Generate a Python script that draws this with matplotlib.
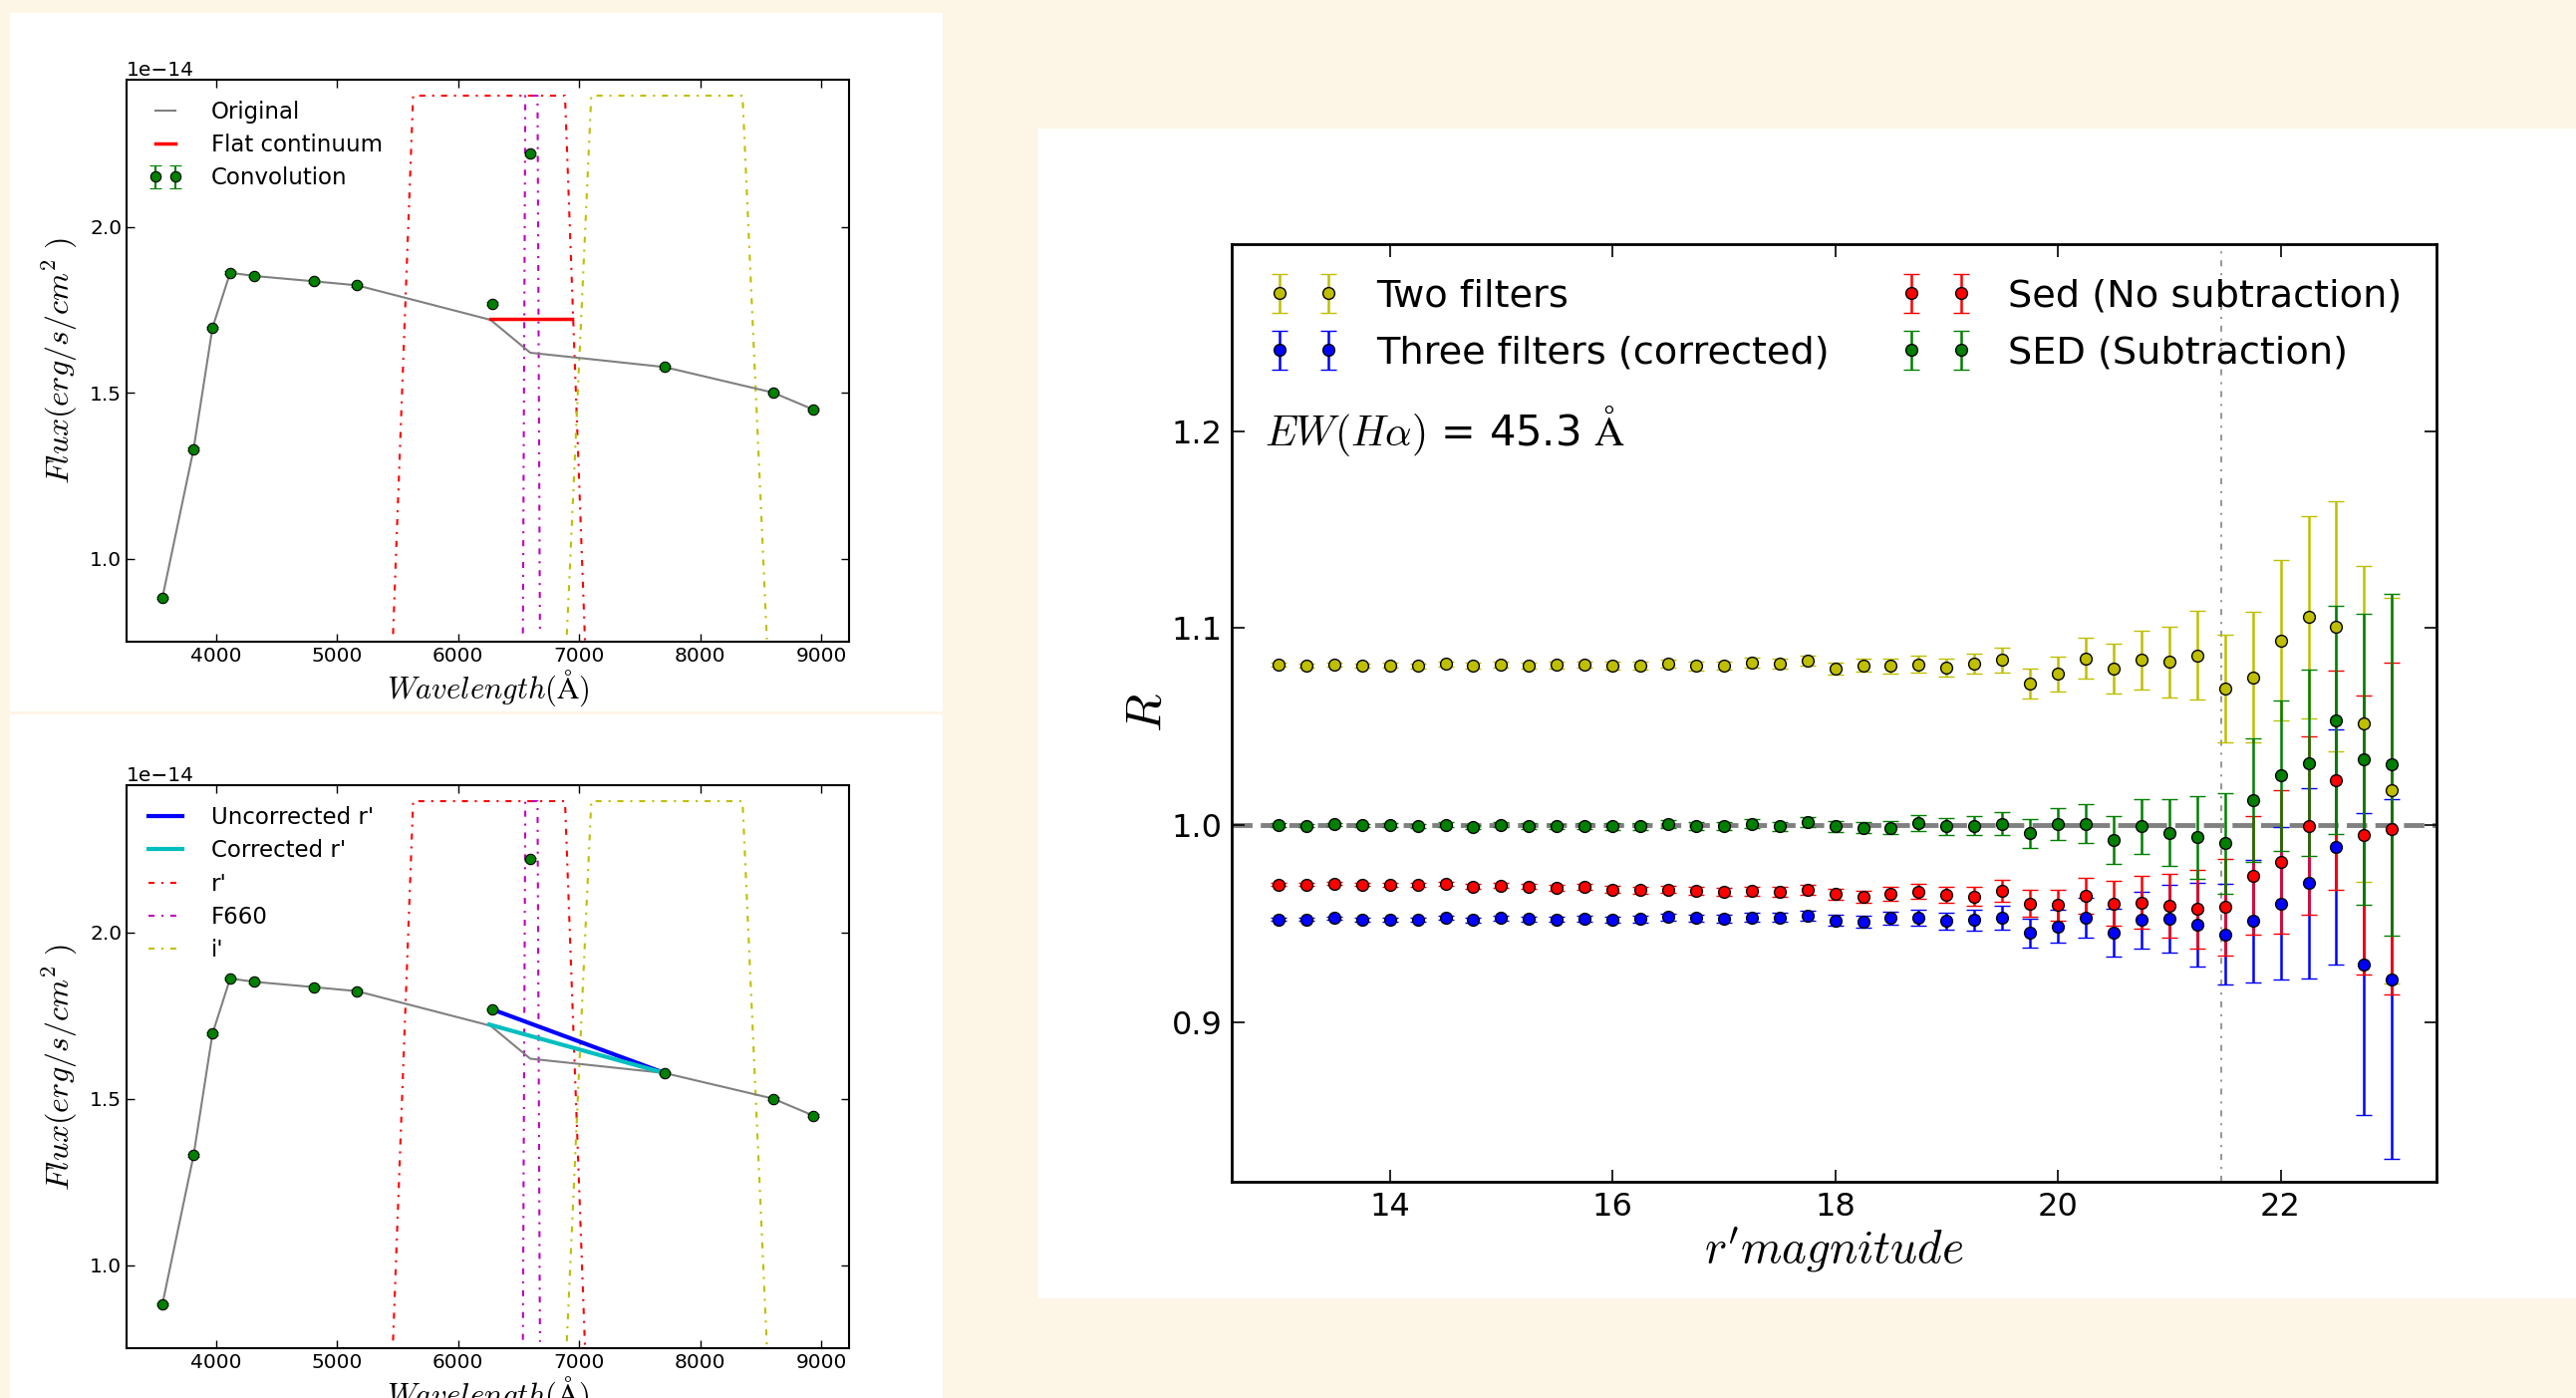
import numpy as np
import matplotlib
matplotlib.use('Agg')
import matplotlib.pyplot as plt
from matplotlib.patches import Rectangle

# ===== DATA =====

# Photometric points used for the convolution (wavelength in A, flux in 1e-14 erg/s/cm2)
conv_wl = [3556, 3814, 3970, 4116, 4318, 4811, 5164, 6283, 6596, 7705, 8602, 8935]
conv_flux = [0.883, 1.331, 1.696, 1.862, 1.852, 1.836, 1.824, 1.769, 2.220, 1.578, 1.501, 1.450]
conv_err = [0.004, 0.004, 0.004, 0.004, 0.004, 0.004, 0.004, 0.004, 0.004, 0.004, 0.004, 0.004]

# Original spectrum (continuum + line)
orig_wl = [3556, 3814, 3970, 4116, 4318, 4811, 5164, 6268, 6596, 7705, 8602, 8935]
orig_flux = [0.883, 1.331, 1.696, 1.862, 1.852, 1.836, 1.824, 1.720, 1.621, 1.578, 1.501, 1.450]

# Flat continuum under the r' band
flat_wl = [6268, 6939]
flat_flux = [1.7235, 1.7235]

# r' -> i' interpolations
uncorr_wl = [6283, 7705]
uncorr_flux = [1.769, 1.578]
corr_wl = [6258, 7705]
corr_flux = [1.7235, 1.578]

# Filter curves (scaled)
r_wl = [5462, 5628, 6883, 7049]
r_tr = [0.774, 2.395, 2.395, 0.745]
f660_wl = [6535, 6555, 6656, 6676]
f660_tr = [0.776, 2.395, 2.395, 0.770]
i_wl = [6898, 7100, 8350, 8551]
i_tr = [0.772, 2.395, 2.395, 0.758]

# Right panel: R ratio vs r' magnitude
mag = [13.0, 13.25, 13.5, 13.75, 14.0, 14.25, 14.5, 14.75, 15.0, 15.25, 15.5,
       15.75, 16.0, 16.25, 16.5, 16.75, 17.0, 17.25, 17.5, 17.75, 18.0, 18.25,
       18.5, 18.75, 19.0, 19.25, 19.5, 19.75, 20.0, 20.25, 20.5, 20.75, 21.0,
       21.25, 21.5, 21.75, 22.0, 22.25, 22.5, 22.75, 23.0]

two_filters = [1.0813, 1.0810, 1.0815, 1.0811, 1.0811, 1.0808, 1.0818, 1.0810,
               1.0816, 1.0811, 1.0813, 1.0815, 1.0810, 1.0810, 1.0820, 1.0808,
               1.0810, 1.0825, 1.0821, 1.0835, 1.0796, 1.0811, 1.0808, 1.0816,
               1.0801, 1.0820, 1.0839, 1.0718, 1.0768, 1.0847, 1.0795, 1.0839,
               1.0830, 1.0863, 1.0694, 1.0752, 1.0938, 1.1056, 1.1010, 1.0516,
               1.0176]
two_filters_err = [0.0010, 0.0010, 0.0011, 0.0011, 0.0012, 0.0012, 0.0013, 0.0014,
                   0.0015, 0.0015, 0.0016, 0.0017, 0.0018, 0.0019, 0.0020, 0.0021,
                   0.0022, 0.0024, 0.0025, 0.0027, 0.0030, 0.0033, 0.0036, 0.0043,
                   0.0046, 0.0052, 0.0062, 0.0077, 0.0087, 0.0103, 0.0128, 0.0149,
                   0.0180, 0.0224, 0.0271, 0.0333, 0.0406, 0.0512, 0.0636, 0.0801,
                   0.0980]

three_filters = [0.9522, 0.9521, 0.9528, 0.9521, 0.9522, 0.9521, 0.9531, 0.9519,
                 0.9528, 0.9524, 0.9522, 0.9526, 0.9519, 0.9524, 0.9534, 0.9528,
                 0.9524, 0.9533, 0.9533, 0.9541, 0.9517, 0.9509, 0.9529, 0.9530,
                 0.9513, 0.9518, 0.9530, 0.9453, 0.9487, 0.9531, 0.9455, 0.9519,
                 0.9525, 0.9495, 0.9447, 0.9513, 0.9602, 0.9706, 0.9890, 0.9295,
                 0.9219]
three_filters_err = [0.0008, 0.0008, 0.0009, 0.0009, 0.0010, 0.0010, 0.0011, 0.0012,
                     0.0012, 0.0013, 0.0014, 0.0015, 0.0016, 0.0017, 0.0018, 0.0019,
                     0.0020, 0.0021, 0.0023, 0.0025, 0.0027, 0.0030, 0.0033, 0.0041,
                     0.0044, 0.0052, 0.0062, 0.0074, 0.0083, 0.0101, 0.0120, 0.0144,
                     0.0172, 0.0211, 0.0257, 0.0313, 0.0387, 0.0484, 0.0598, 0.0766,
                     0.0913]

sed_nosub = [0.9699, 0.9698, 0.9704, 0.9699, 0.9698, 0.9696, 0.9701, 0.9689,
             0.9694, 0.9688, 0.9681, 0.9686, 0.9674, 0.9670, 0.9674, 0.9667,
             0.9664, 0.9665, 0.9662, 0.9674, 0.9650, 0.9638, 0.9652, 0.9664,
             0.9646, 0.9639, 0.9665, 0.9602, 0.9594, 0.9642, 0.9602, 0.9608,
             0.9590, 0.9575, 0.9584, 0.9745, 0.9815, 0.9998, 1.0230, 0.9950,
             0.9983]
sed_nosub_err = [0.0008, 0.0008, 0.0009, 0.0009, 0.0010, 0.0010, 0.0011, 0.0012,
                 0.0012, 0.0013, 0.0014, 0.0015, 0.0016, 0.0017, 0.0018, 0.0019,
                 0.0020, 0.0021, 0.0023, 0.0025, 0.0027, 0.0030, 0.0033, 0.0037,
                 0.0039, 0.0046, 0.0056, 0.0068, 0.0077, 0.0092, 0.0114, 0.0133,
                 0.0161, 0.0199, 0.0244, 0.0300, 0.0364, 0.0454, 0.0557, 0.0710,
                 0.0841]

sed_sub = [1.0001, 0.9997, 1.0004, 0.9999, 0.9999, 0.9996, 1.0003, 0.9991,
           1.0003, 0.9996, 0.9994, 0.9997, 0.9994, 0.9994, 1.0006, 0.9996,
           0.9997, 1.0008, 0.9994, 1.0018, 0.9994, 0.9988, 0.9988, 1.0012,
           0.9994, 0.9998, 1.0008, 0.9958, 1.0004, 1.0008, 0.9926, 0.9994,
           0.9962, 0.9938, 0.9909, 1.0128, 1.0252, 1.0317, 1.0534, 1.0335,
           1.0308]
sed_sub_err = [0.0008, 0.0008, 0.0009, 0.0009, 0.0010, 0.0010, 0.0011, 0.0012,
               0.0012, 0.0013, 0.0014, 0.0015, 0.0016, 0.0017, 0.0018, 0.0019,
               0.0020, 0.0021, 0.0023, 0.0025, 0.0027, 0.0030, 0.0033, 0.0040,
               0.0043, 0.0049, 0.0058, 0.0072, 0.0081, 0.0097, 0.0120, 0.0139,
               0.0170, 0.0209, 0.0255, 0.0313, 0.0381, 0.0474, 0.0578, 0.0737,
               0.0868]

mag_limit = 21.47

# ===== FIGURE LAYOUT (pixel boxes, origin top-left) =====
W, H = 2585, 1403
BG = '#fdf5e6'
DASHDOT = (2.9, 3.3, 1.0, 3.3)   # sparse old-style dash-dot


def box(x0, y0, x1, y1):
    """Pixel box (top-left origin) -> figure fraction rect"""
    return [x0 / W, 1 - y1 / H, (x1 - x0) / W, (y1 - y0) / H]


plt.rcParams['mathtext.fontset'] = 'cm'
plt.rcParams['font.family'] = ['DejaVu Sans']

fig = plt.figure(figsize=(W / 100, H / 100), dpi=100, facecolor=BG)

# white panels behind each plot
for x0, y0, x1, y1 in [(10, 13, 946, 714), (10, 717, 946, 1403), (1042, 129, 2585, 1303)]:
    r = box(x0, y0, x1, y1)
    fig.add_artist(Rectangle((r[0], r[1]), r[2], r[3], transform=fig.transFigure,
                             facecolor='white', edgecolor='none', zorder=-5))

E14 = 1e-14


def sed_panel(ax):
    ax.plot(r_wl, np.array(r_tr) * E14, color='r', lw=1.5, dashes=DASHDOT, label="r'")
    ax.plot(f660_wl, np.array(f660_tr) * E14, color='m', lw=1.5, dashes=DASHDOT, label='F660')
    ax.plot(i_wl, np.array(i_tr) * E14, color='y', lw=1.5, dashes=DASHDOT, label="i'")
    ax.plot(orig_wl, np.array(orig_flux) * E14, '-', color='grey', lw=1.5, label='Original')
    ax.set_xlim(3260, 9230)
    ax.set_ylim(0.751 * E14, 2.443 * E14)
    ax.set_xticks([4000, 5000, 6000, 7000, 8000, 9000])
    ax.set_yticks([1.0 * E14, 1.5 * E14, 2.0 * E14])
    ax.tick_params(direction='in', top=True, right=True, length=6, width=1, labelsize=14.5)
    ax.yaxis.get_offset_text().set_fontsize(14.5)
    for s in ax.spines.values():
        s.set_linewidth(1.5)
    ax.set_xlabel(r'$Wavelength(\mathrm{\AA})$', fontsize=22, labelpad=2)
    ax.set_ylabel(r'$Flux(erg/s/cm^2\ )$', fontsize=23, labelpad=7)


LEG_LEFT = dict(loc='upper left', bbox_to_anchor=(0.03, 0.963), frameon=False, fontsize=16.5,
                handlelength=1.5, handletextpad=1.25, labelspacing=0.45, borderpad=0,
                borderaxespad=0)

# ---- top-left: flat continuum ----
ax1 = fig.add_axes(box(127, 80, 852, 644))
sed_panel(ax1)
ax1.plot(flat_wl, np.array(flat_flux) * E14, '-', color='r', lw=2.5, label='Flat continuum')
ax1.errorbar(conv_wl, np.array(conv_flux) * E14, yerr=np.array(conv_err) * E14,
             fmt='o', color='g', mec='k', mew=0.8, ms=7.5, capsize=4, label='Convolution')
h, l = ax1.get_legend_handles_labels()
order = [l.index('Original'), l.index('Flat continuum'), l.index('Convolution')]
ax1.legend([h[i] for i in order], [l[i] for i in order], numpoints=2, **LEG_LEFT)

# ---- bottom-left: corrected r' ----
ax2 = fig.add_axes(box(127, 788, 852, 1353))
sed_panel(ax2)
ax2.errorbar(conv_wl, np.array(conv_flux) * E14, yerr=np.array(conv_err) * E14,
             fmt='o', color='g', mec='k', mew=0.8, ms=7.5, capsize=4)
ax2.plot(uncorr_wl, np.array(uncorr_flux) * E14, '-', color='b', lw=3, label="Uncorrected r'")
ax2.plot(corr_wl, np.array(corr_flux) * E14, '-', color='c', lw=3, label="Corrected r'")
h, l = ax2.get_legend_handles_labels()
order = [l.index("Uncorrected r'"), l.index("Corrected r'"), l.index("r'"), l.index('F660'), l.index("i'")]
ax2.legend([h[i] for i in order], [l[i] for i in order], **LEG_LEFT)

# ---- right: ratio R vs magnitude ----
ax3 = fig.add_axes(box(1236, 245, 2445, 1186))
ax3.axhline(1.0, color='grey', lw=3.5, dashes=(4.2, 1.7), zorder=1)
ax3.axvline(mag_limit, color='0.6', lw=1.5, dashes=DASHDOT, zorder=1)
series = [
    (two_filters, two_filters_err, 'y', 'Two filters'),
    (three_filters, three_filters_err, 'b', 'Three filters (corrected)'),
    (sed_nosub, sed_nosub_err, 'r', 'Sed (No subtraction)'),
    (sed_sub, sed_sub_err, 'g', 'SED (Subtraction)'),
]
for vals, errs, c, lab in series:
    ax3.errorbar(mag, vals, yerr=errs, fmt='o', color=c, ecolor=c, mec='k', mew=1,
                 ms=8.5, capsize=6, elinewidth=1.8, capthick=1.5, label=lab)

ax3.set_xlim(12.58, 23.40)
ax3.set_ylim(0.819, 1.295)
ax3.set_xticks([14, 16, 18, 20, 22])
ax3.set_yticks([0.9, 1.0, 1.1, 1.2])
ax3.tick_params(direction='in', top=True, right=True, length=9, width=1.2, labelsize=23, pad=7)
for s in ax3.spines.values():
    s.set_linewidth(2)
ax3.set_xlabel(r"$r'magnitude$", fontsize=34, labelpad=2)
ax3.set_ylabel(r'$R$', fontsize=36, labelpad=0)
ax3.text(0.027, 1.2, r'$EW(H\alpha)$ = 45.3 $\mathrm{\AA}$', transform=ax3.get_yaxis_transform(),
         fontsize=30, ha='left', va='center')
ax3.legend(loc='upper left', bbox_to_anchor=(0.03, 0.963), ncol=2, frameon=False,
           numpoints=2, fontsize=27.5, handlelength=1.9, handletextpad=0.95,
           labelspacing=0.55, columnspacing=1.85, borderpad=0, borderaxespad=0)

fig.savefig('out.png', dpi=100, facecolor=BG)
